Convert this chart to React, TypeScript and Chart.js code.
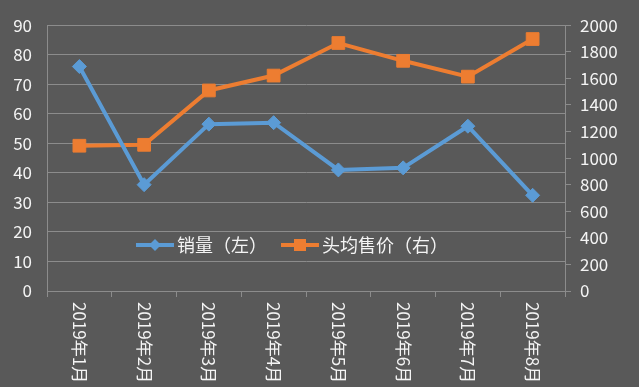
import React, { useEffect, useRef } from "react";
import { Chart, registerables } from "chart.js";

Chart.register(...registerables);

const categories = ["2019年1月", "2019年2月", "2019年3月", "2019年4月", "2019年5月", "2019年6月", "2019年7月", "2019年8月"];
const salesVolume = [76, 36, 56.5, 57, 41, 41.7, 55.8, 32.4];
const avgPrice = [1093, 1100, 1509, 1621, 1866, 1732, 1613, 1896];
const seriesNames = ["销量（左）", "头均售价（右）"];

const BG = "#595959";
const GRID = "#8c8c8c";
const TEXT = "#f4f4f4";
const BLUE = "#5b9bd5";
const ORANGE = "#ed7d31";
const FONT = "'Noto Sans CJK SC', 'Noto Sans', sans-serif";

const xLabelPlugin = {
  id: "xLabels",
  afterDraw(chart: any) {
    const scale = chart.scales.x;
    const ctx = chart.ctx;
    ctx.save();
    ctx.fillStyle = TEXT;
    ctx.font = `17px ${FONT}`;
    ctx.textAlign = "left";
    ctx.textBaseline = "middle";
    const labels = chart.data.labels as string[];
    labels.forEach((lab, i) => {
      const x = scale.getPixelForValue(i);
      ctx.save();
      ctx.translate(x, scale.top + 11);
      ctx.rotate(Math.PI / 2);
      ctx.fillText(lab, 0, 0);
      ctx.restore();
    });
    ctx.restore();
  },
};

const legendPlugin = {
  id: "innerLegend",
  afterDatasetsDraw(chart: any) {
    const ctx = chart.ctx;
    const area = chart.chartArea;
    const y = area.bottom - 46;
    let x = area.left + 89;
    ctx.save();
    ctx.font = `18px ${FONT}`;
    ctx.textBaseline = "middle";
    ctx.textAlign = "left";
    chart.data.datasets.forEach((ds: any) => {
      const lineLen = 38;
      ctx.strokeStyle = ds.borderColor;
      ctx.lineWidth = 4;
      ctx.beginPath();
      ctx.moveTo(x, y);
      ctx.lineTo(x + lineLen, y);
      ctx.stroke();
      ctx.fillStyle = ds.pointBackgroundColor;
      const cx = x + lineLen / 2;
      ctx.beginPath();
      if (ds.pointStyle === "rect") {
        ctx.rect(cx - 6, y - 6, 12, 12);
      } else {
        ctx.moveTo(cx, y - 6);
        ctx.lineTo(cx + 6, y);
        ctx.lineTo(cx, y + 6);
        ctx.lineTo(cx - 6, y);
        ctx.closePath();
      }
      ctx.fill();
      ctx.fillStyle = TEXT;
      ctx.fillText(ds.label, x + lineLen + 3, y);
      x += lineLen + 3 + ctx.measureText(ds.label).width + 14;
    });
    ctx.restore();
  },
};

export default function App() {
  const ref = useRef<HTMLCanvasElement>(null);
  useEffect(() => {
    document.body.style.margin = "0";
    const chart = new Chart(ref.current as HTMLCanvasElement, {
      type: "line",
      data: {
        labels: categories,
        datasets: [
          {
            label: seriesNames[0],
            data: salesVolume,
            yAxisID: "y",
            borderColor: BLUE,
            backgroundColor: BLUE,
            pointBackgroundColor: BLUE,
            pointBorderColor: BLUE,
            borderWidth: 4,
            pointStyle: "rectRot",
            pointRadius: 7,
            pointBorderWidth: 1,
          },
          {
            label: seriesNames[1],
            data: avgPrice,
            yAxisID: "y1",
            borderColor: ORANGE,
            backgroundColor: ORANGE,
            pointBackgroundColor: ORANGE,
            pointBorderColor: ORANGE,
            borderWidth: 4,
            pointStyle: "rect",
            pointRadius: 9,
            pointBorderWidth: 1,
          },
        ],
      },
      options: {
        animation: false,
        responsive: true,
        maintainAspectRatio: false,
        layout: { padding: { top: 22, left: 0, right: 0, bottom: 0 } },
        plugins: { legend: { display: false }, tooltip: { enabled: false } },
        scales: {
          x: {
            offset: true,
            afterFit: (s: any) => { s.height = 96; },
            grid: { drawOnChartArea: false, drawTicks: true, tickLength: 6, offset: true, color: GRID, lineWidth: 1 },
            border: { display: true, color: GRID, width: 1 },
            ticks: { color: "rgba(0,0,0,0)", font: { size: 16, family: FONT }, maxRotation: 90, minRotation: 90 },
          },
          y: {
            position: "left",
            min: 0,
            max: 90,
            afterFit: (s: any) => { s.width = 47; },
            ticks: { stepSize: 10, color: TEXT, font: { size: 17, family: FONT }, padding: 15 },
            grid: { color: GRID, drawTicks: false, lineWidth: 1 },
            border: { display: true, color: GRID },
          },
          y1: {
            position: "right",
            min: 0,
            max: 2000,
            afterFit: (s: any) => { s.width = 74; },
            ticks: {
              stepSize: 200,
              color: TEXT,
              font: { size: 17, family: FONT },
              padding: 9,
              callback: (v: any) => String(v),
            },
            grid: { drawOnChartArea: false, drawTicks: true, tickLength: 6, color: GRID },
            border: { display: true, color: GRID },
          },
        },
      },
      plugins: [xLabelPlugin, legendPlugin],
    } as any);
    return () => chart.destroy();
  }, []);
  return (
    <div style={{ width: 639, height: 387, background: BG, position: "relative" }}>
      <canvas ref={ref} />
    </div>
  );
}
